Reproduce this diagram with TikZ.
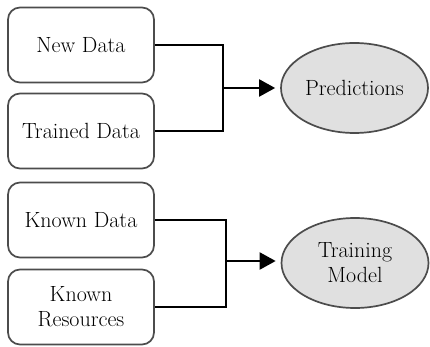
\documentclass[tikz,border=0pt]{standalone}
\usetikzlibrary{arrows.meta,shapes.geometric}
\begin{document}
\begin{tikzpicture}[x=1pt,y=-1pt,
  box/.style={draw=black!70,line width=1.7pt,rounded corners=12pt,fill=white,
    minimum width=146pt,minimum height=75pt,inner sep=0pt,align=center,
    font=\fontsize{22}{25}\selectfont,text=black},
  oval/.style={ellipse,draw=black!70,line width=1.7pt,fill=black!12,
    minimum width=147pt,minimum height=90pt,inner sep=0pt,align=center,
    font=\fontsize{22}{25}\selectfont,text=black},
  conn/.style={draw=black,line width=2.2pt},
  arr/.style={conn,-{Triangle[length=16pt,width=17pt]},shorten >=5pt}]
\useasboundingbox (0,0) rectangle (430,347);
\node[box] (nd) at (81,45) {New Data};
\node[box] (td) at (81,131) {Trained Data};
\node[box] (kd) at (81,220) {Known Data};
\node[box] (kr) at (81,307) {Known\\Resources};
\node[oval] (pred) at (354.5,88) {Predictions};
\node[oval] (tm) at (355,263) {Training\\Model};
\coordinate (j1) at (223,88);
\coordinate (j2) at (226,261);
\draw[conn] (nd.east) -| (j1) |- (td.east);
\draw[conn] (kd.east) -| (j2) |- (kr.east);
\draw[arr] (j1) -- (j1 -| pred.west);
\draw[arr] (j2) -- (j2 -| tm.west);
\end{tikzpicture}
\end{document}
